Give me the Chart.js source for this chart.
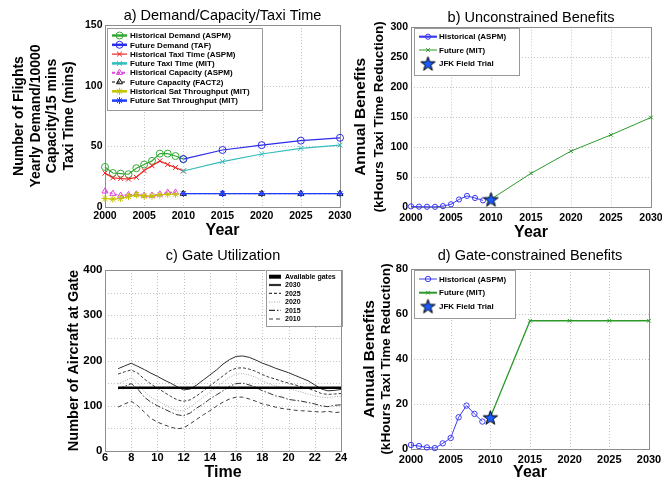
<!DOCTYPE html>
<html><head><meta charset="utf-8"><title>Demand, capacity, gate utilization and benefits</title>
<script src="https://cdn.jsdelivr.net/npm/chart.js@4.4.1/dist/chart.umd.min.js"></script>
<style>
html,body{margin:0;padding:0;background:#fff;}
body{width:662px;height:481px;position:relative;overflow:hidden;}
canvas{position:absolute;}
</style></head><body>
<canvas id="cA" width="360" height="245" style="left:0;top:0"></canvas>
<canvas id="cB" width="331" height="245" style="left:331px;top:0"></canvas>
<canvas id="cC" width="360" height="245" style="left:0;top:240px"></canvas>
<canvas id="cD" width="331" height="245" style="left:331px;top:240px"></canvas>
<script>
// ---------------- data ----------------
const histYears   = [2000,2001,2002,2003,2004,2005,2006,2007,2008,2009,2010];
const histYears09 = [2000,2001,2002,2003,2004,2005,2006,2007,2008,2009];
const futYears    = [2010,2015,2020,2025,2030];
const yearTicks   = [2000,2005,2010,2015,2020,2025,2030];

// a) demand / capacity / taxi time
const histDemand   = [33,28,27.5,27,32,35,38,44,44,42,39.5];
const futDemand    = [39.5,47,51,54.7,57];
const histTaxi     = [28,24,23.5,23,24.5,30,34,38,35,32.5,29.7];
const futTaxi      = [29.7,37.4,43.7,48.3,51];
const histCapacity = [13,11,9.5,10,10.5,9.5,9.5,10.5,12,12];
const futCapacity  = [11,11,11,11,11];
const histSatThr   = [7,6.5,7,8.5,10,9,9,10,10.5,10.5];
const futSatThr    = [11,11,11,11,11];
const yTicksA      = [0,50,100,150];

// b) unconstrained benefits
const unconHist    = [1,0.6,0.4,0.3,1.5,4.5,12.5,18.5,15,11];
const unconFut     = [13,56,93,120,149];
const trialYear    = [2010];
const trialUncon   = [13];
const yTicksB      = [0,50,100,150,200,250,300];

// c) gate utilization
const hours = [7,7.5,8,8.5,9,9.5,10,10.5,11,11.5,12,12.5,13,13.5,14,14.5,15,15.5,16,16.5,17,17.5,18,18.5,19,19.5,20,20.5,21,21.5,22,22.5,23,23.5,24];
const gates2030 = [182,188,194,187,180,172,165,157,150,142,135,137,146,157,168,179,192,202,209,210,207,201,194,189,183,178,173,167,161,155,146,137,133,134,136];
const gates2025 = [170,175,179,172,159,148,139,130,121,113,110,113,122,133,144,155,166,177,183,184,181,176,169,163,159,154,150,146,142,138,133,127,125,126,127];
const gates2020 = [148,155,162,150,131,119,111,103,95,89,89,97,108,119,130,141,152,163,170,171,168,163,155,149,144,141,138,134,130,126,122,119,118,120,121];
const gates2015 = [137,143,149,137,119,108,100,93,86,80,78,84,95,104,115,124,133,143,149,150,146,141,133,128,122,119,114,112,110,107,104,100,98,101,102];
const gates2010 = [97,104,110,100,86,72,64,58,53,49,51,60,70,80,89,99,108,115,119,119,115,110,104,101,97,94,92,90,89,88,87,86,88,85,86];
const availHours = [7,24];
const availGates = [140,140];
const hourTicks  = [6,8,10,12,14,16,18,20,22,24];
const yTicksC    = [0,50,100,150,200,250,300,350,400];

// d) gate-constrained benefits
const gateHist   = [1.8,1.3,0.7,0.4,2.5,4.9,14.1,19.3,15.6,12.2];
const gateFut    = [14.1,57,57,57,57];
const trialGate  = [14.1];
const yTicksD    = [0,20,40,60,80];

// ---------------- helpers ----------------
const FONT = "'Liberation Sans', Arial, Helvetica, sans-serif";
Chart.defaults.font.family = FONT;
Chart.defaults.color = '#000';

function makeStar(size, fill) {
  const c = document.createElement('canvas'); c.width = c.height = size;
  const g = c.getContext('2d'); const cx = size/2, cy = size/2 + size*0.05;
  const R = size/2 - 1, r = R*0.40;
  g.beginPath();
  for (let i = 0; i < 10; i++) {
    const ang = -Math.PI/2 + i*Math.PI/5, rad = i % 2 ? r : R;
    g.lineTo(cx + rad*Math.cos(ang), cy + rad*Math.sin(ang));
  }
  g.closePath(); g.fillStyle = fill; g.fill();
  g.lineWidth = 1; g.strokeStyle = '#000'; g.stroke();
  return c;
}
const starImg = makeStar(17, '#1a5cff');

function ds(label, xs, ys, o) {
  return {
    label, data: xs.map((x, i) => ({x, y: ys[i]})),
    borderColor: o.color, backgroundColor: o.color,
    borderWidth: o.width || 1, borderDash: o.dash || [],
    pointStyle: o.marker || 'circle', pointRadius: o.marker ? (o.r || 3) : 0,
    pointBorderColor: o.pcolor || o.color, pointBackgroundColor: 'rgba(0,0,0,0)', pointBorderWidth: 1,
    showLine: o.showLine !== false, tension: 0, clip: false, order: o.order || 0,
    legendWidth: o.lw || 2, legendR: o.lr
  };
}

function marker(ctx, st, x, y, r, color) {
  if (!st || !(r > 0)) return;
  ctx.save(); ctx.setLineDash([]); ctx.strokeStyle = color; ctx.lineWidth = 1;
  if (typeof st !== 'string') { ctx.drawImage(st, x - st.width/2, y - st.height/2); ctx.restore(); return; }
  ctx.beginPath();
  if (st === 'circle') ctx.arc(x, y, r, 0, Math.PI*2);
  else if (st === 'crossRot' || st === 'star') {
    const d = r*Math.SQRT1_2;
    ctx.moveTo(x-d, y-d); ctx.lineTo(x+d, y+d); ctx.moveTo(x-d, y+d); ctx.lineTo(x+d, y-d);
    if (st === 'star') { ctx.moveTo(x, y-r); ctx.lineTo(x, y+r); ctx.moveTo(x-r, y); ctx.lineTo(x+r, y); }
  } else if (st === 'triangle') {
    for (let k = 0; k < 3; k++) {
      const a = k*2*Math.PI/3, px = x + Math.sin(a)*r, py = y - Math.cos(a)*r;
      if (k) ctx.lineTo(px, py); else ctx.moveTo(px, py);
    }
    ctx.closePath();
  }
  ctx.stroke(); ctx.restore();
}

const gridFrame = {
  id: 'gridFrame',
  beforeDatasetsDraw(chart) {
    const {ctx, chartArea: a, scales} = chart;
    ctx.save();
    ctx.strokeStyle = '#c4c4c4'; ctx.lineWidth = 1; ctx.setLineDash([1, 2]);
    const xs = scales.x, ys = scales.y;
    xs.ticks.forEach(t => {
      const px = Math.round(xs.getPixelForValue(t.value)) + 0.5;
      if (px <= a.left + 1 || px >= a.right - 1) return;
      ctx.beginPath(); ctx.moveTo(px, a.top); ctx.lineTo(px, a.bottom); ctx.stroke();
    });
    ys.ticks.forEach(t => {
      const py = Math.round(ys.getPixelForValue(t.value)) + 0.5;
      if (py <= a.top + 1 || py >= a.bottom - 1) return;
      ctx.beginPath(); ctx.moveTo(a.left, py); ctx.lineTo(a.right, py); ctx.stroke();
    });
    ctx.setLineDash([]); ctx.strokeStyle = '#8c8c8c';
    const l = Math.round(a.left), t = Math.round(a.top), r = Math.round(a.right), b = Math.round(a.bottom);
    ctx.strokeRect(l + 0.5, t + 0.5, r - l, b - t);
    ctx.restore();
  }
};

const boxLegend = {
  id: 'boxLegend',
  afterDraw(chart, args, o) {
    if (!o || !o.box) return;
    const ctx = chart.ctx; const [bx, by, bw, bh] = o.box;
    ctx.save();
    ctx.fillStyle = '#fff'; ctx.fillRect(bx, by, bw, bh);
    ctx.strokeStyle = '#999'; ctx.lineWidth = 1; ctx.setLineDash([]);
    ctx.strokeRect(Math.round(bx) + 0.5, Math.round(by) + 0.5, Math.round(bw), Math.round(bh));
    let row = 0;
    chart.data.datasets.forEach(d => {
      const y = o.rows[row++];
      if (d.showLine !== false) {
        ctx.setLineDash(d.borderDash || []);
        ctx.strokeStyle = d.borderColor; ctx.lineWidth = d.legendWidth;
        ctx.beginPath(); ctx.moveTo(o.x1, y); ctx.lineTo(o.x2, y); ctx.stroke();
        ctx.setLineDash([]);
      }
      if (d.pointRadius > 0) marker(ctx, d.pointStyle, (o.x1 + o.x2)/2, y, d.legendR || d.pointRadius, d.pointBorderColor);
      ctx.fillStyle = '#000'; ctx.font = 'bold ' + o.size + 'px ' + FONT;
      ctx.textBaseline = 'middle'; ctx.textAlign = 'left';
      ctx.fillText(d.label, o.tx, y + 0.5);
    });
    ctx.restore();
  }
};

function xAxis(tk, o) {
  return {
    type: 'linear', position: 'bottom', min: tk[0], max: tk[tk.length - 1],
    afterBuildTicks: s => { s.ticks = tk.map(v => ({value: v})); },
    afterFit: s => { s.height = o.h; s.paddingLeft = 0; s.paddingRight = 0; },
    grid: {display: false, drawTicks: false}, border: {display: false},
    ticks: {autoSkip: false, maxRotation: 0, padding: o.pad, color: '#000',
      font: {size: o.fs, weight: 'bold'}, callback: v => String(v)},
    title: {display: true, text: o.title, color: '#000',
      font: {size: 16, weight: 'bold', lineHeight: 1.2}, padding: {top: 0, bottom: o.tpb}}
  };
}
function yAxis(tk, o) {
  return {
    type: 'linear', position: 'left', min: tk[0], max: tk[tk.length - 1], weight: 0,
    afterBuildTicks: s => { s.ticks = tk.map(v => ({value: v})); },
    afterFit: s => { s.width = o.w; s.paddingTop = 0; s.paddingBottom = 0; },
    grid: {display: false, drawTicks: false}, border: {display: false},
    ticks: {autoSkip: false, padding: o.pad, color: '#000', font: {size: o.fs, weight: 'bold'},
      callback: o.cb || (v => String(v))},
    title: {display: true, text: o.title, color: '#000',
      font: {size: o.tfs, weight: 'bold', lineHeight: 1.2}, padding: {top: o.tpt, bottom: 0}}
  };
}
function titleAxis(o) {
  return {
    type: 'linear', position: 'left', weight: 1, min: 0, max: 1,
    afterFit: s => { s.width = o.w; s.paddingTop = 0; s.paddingBottom = 0; },
    grid: {display: false, drawTicks: false}, border: {display: false}, ticks: {display: false},
    title: {display: true, text: o.title, color: '#000',
      font: {size: o.tfs, weight: 'bold', lineHeight: 1.2}, padding: {top: o.tpt, bottom: 0}}
  };
}
function opts(o) {
  const scales = {x: o.x, y: o.y};
  if (o.yT) scales.yT = o.yT;
  return {
    responsive: false, animation: false, events: [],
    layout: {padding: {left: 0, right: o.pr, top: 0, bottom: 0}},
    scales,
    plugins: {
      legend: {display: false}, tooltip: {enabled: false},
      title: {display: true, text: o.title[0], fullSize: false, color: '#000',
        font: {size: 14.5, weight: 'normal', lineHeight: 1.2}, padding: {top: o.title[1], bottom: o.title[2]}},
      boxLegend: o.legend
    }
  };
}

// ---------------- a) ----------------
new Chart(document.getElementById('cA'), {
  type: 'line',
  data: {datasets: [
    ds('Historical Demand (ASPM)', histYears, histDemand, {color: '#35a835', marker: 'circle', r: 3.5, width: 1.2, lw: 2.5, order: 0}),
    ds('Future Demand (TAF)', futYears, futDemand, {color: '#2b2bea', marker: 'circle', r: 3.5, width: 1.2, lw: 2.5, order: -1}),
    ds('Historical Taxi Time (ASPM)', histYears, histTaxi, {color: '#ee2525', marker: 'crossRot', r: 3.5, width: 1.2, lw: 1.2, order: -2}),
    ds('Future Taxi Time (MIT)', futYears, futTaxi, {color: '#34bcbc', marker: 'crossRot', r: 3.5, width: 1.2, lw: 2.5, order: -3}),
    ds('Historical Capacity (ASPM)', histYears09, histCapacity, {color: '#e046e0', marker: 'triangle', r: 3.5, width: 1.2, dash: [3, 2], lw: 2, order: -4}),
    ds('Future Capacity (FACT2)', futYears, futCapacity, {color: '#000000', marker: 'triangle', r: 3.5, width: 1, dash: [3, 2], lw: 1, order: -5}),
    ds('Historical Sat Throughput (MIT)', histYears09, histSatThr, {color: '#c4c400', marker: 'star', r: 3.5, width: 1.2, lw: 2.5, order: -6}),
    ds('Future Sat Throughput (MIT)', futYears, futSatThr, {color: '#1f3cff', marker: 'star', r: 3.5, width: 1.2, lw: 2.5, order: -7})
  ]},
  options: opts({
    pr: 20,
    title: ['a) Demand/Capacity/Taxi Time', 7.3, 0.3],
    x: xAxis(yearTicks, {h: 38, fs: 10.5, pad: 2.7, title: 'Year', tpb: 4.4}),
    y: yAxis(yTicksA, {w: 105, fs: 10.5, pad: 2.5, tfs: 14, tpt: 10.6,
      title: ['Number of Flights', 'Yearly Demand/10000', 'Capacity/15 mins', 'Taxi Time (mins)']}),
    legend: {box: [107, 28, 155, 82], rows: [35.5, 44.8, 54.1, 63.4, 72.7, 82, 91.3, 100.6], x1: 112, x2: 127, tx: 130, size: 8}
  }),
  plugins: [gridFrame, boxLegend]
});

// ---------------- b) ----------------
new Chart(document.getElementById('cB'), {
  type: 'line',
  data: {datasets: [
    ds('Historical (ASPM)', histYears09, unconHist, {color: '#3b3bf2', marker: 'circle', r: 2.6, width: 1, lw: 2.2, order: 0}),
    ds('Future (MIT)', futYears, unconFut, {color: '#2b9a2b', marker: 'crossRot', r: 2.6, width: 1, lw: 1, order: -1}),
    ds('JFK Field Trial', trialYear, trialUncon, {color: '#1a5cff', marker: starImg, r: 8, showLine: false, order: -2})
  ]},
  options: opts({
    pr: 11,
    title: ['b) Unconstrained Benefits', 9.3, 0],
    x: xAxis(yearTicks, {h: 38, fs: 10.5, pad: 4.7, title: 'Year', tpb: 2.4}),
    y: yAxis(yTicksB, {w: 40, fs: 10.5, pad: 3, tfs: 13.6, tpt: 0.3, title: '(kHours Taxi Time Reduction)'}),
    yT: titleAxis({w: 40, tfs: 15.5, tpt: 20.7, title: 'Annual Benefits'}),
    legend: {box: [83, 28, 105, 47], rows: [36.7, 50, 63.3], x1: 88, x2: 106, tx: 108, size: 8}
  }),
  plugins: [gridFrame, boxLegend]
});

// ---------------- c) ----------------
new Chart(document.getElementById('cC'), {
  type: 'line',
  data: {datasets: [
    ds('Available gates', availHours, availGates, {color: '#000000', width: 2.5, lw: 4, order: -10}),
    ds('2030', hours, gates2030, {color: '#2e2e2e', width: 1, lw: 2.2, order: -5}),
    ds('2025', hours, gates2025, {color: '#3a3a3a', width: 1, dash: [3, 2], lw: 1.2, order: -4}),
    ds('2020', hours, gates2020, {color: '#a8a8a8', width: 1, dash: [1, 1.5], lw: 1.2, order: -3}),
    ds('2015', hours, gates2015, {color: '#333333', width: 1, dash: [6, 2, 1.5, 2], lw: 1.2, order: -2}),
    ds('2010', hours, gates2010, {color: '#3c3c3c', width: 1, dash: [4, 3], lw: 1.2, order: -1})
  ]},
  options: opts({
    pr: 19,
    title: ['c) Gate Utilization', 7.3, 5.3],
    x: xAxis(hourTicks, {h: 34, fs: 11, pad: 0, title: 'Time', tpb: 3.2}),
    y: yAxis(yTicksC, {w: 105, fs: 11.5, pad: 2.5, tfs: 14.5, tpt: 65.3, title: 'Number of Aircraft at Gate',
      cb: v => (v % 100 === 0 ? String(v) : '')}),
    legend: {box: [265.5, 30, 75.5, 56], rows: [36.7, 45, 53.3, 62, 70.3, 79], x1: 269, x2: 281, tx: 285, size: 7}
  }),
  plugins: [gridFrame, boxLegend]
});

// ---------------- d) ----------------
new Chart(document.getElementById('cD'), {
  type: 'line',
  data: {datasets: [
    ds('Historical (ASPM)', histYears09, gateHist, {color: '#3b3bf2', marker: 'circle', r: 2.7, width: 1, lw: 1, order: 0}),
    ds('Future (MIT)', futYears, gateFut, {color: '#2b9a2b', marker: 'crossRot', r: 2.6, width: 1.3, lw: 2, order: -1}),
    ds('JFK Field Trial', trialYear, trialGate, {color: '#1a5cff', marker: starImg, r: 8, showLine: false, order: -2})
  ]},
  options: opts({
    pr: 13,
    title: ['d) Gate-constrained Benefits', 7.3, 4.3],
    x: xAxis(yearTicks, {h: 36, fs: 11, pad: 3.9, title: 'Year', tpb: 2.4}),
    y: yAxis(yTicksD, {w: 34, fs: 11, pad: 3, tfs: 13.6, tpt: 1.5, title: '(kHours Taxi Time Reduction)'}),
    yT: titleAxis({w: 46, tfs: 15.5, tpt: 29, title: 'Annual Benefits'}),
    legend: {box: [83, 30, 101, 48], rows: [39, 52.7, 66], x1: 88, x2: 106, tx: 108, size: 8}
  }),
  plugins: [gridFrame, boxLegend]
});
</script>
</body></html>
